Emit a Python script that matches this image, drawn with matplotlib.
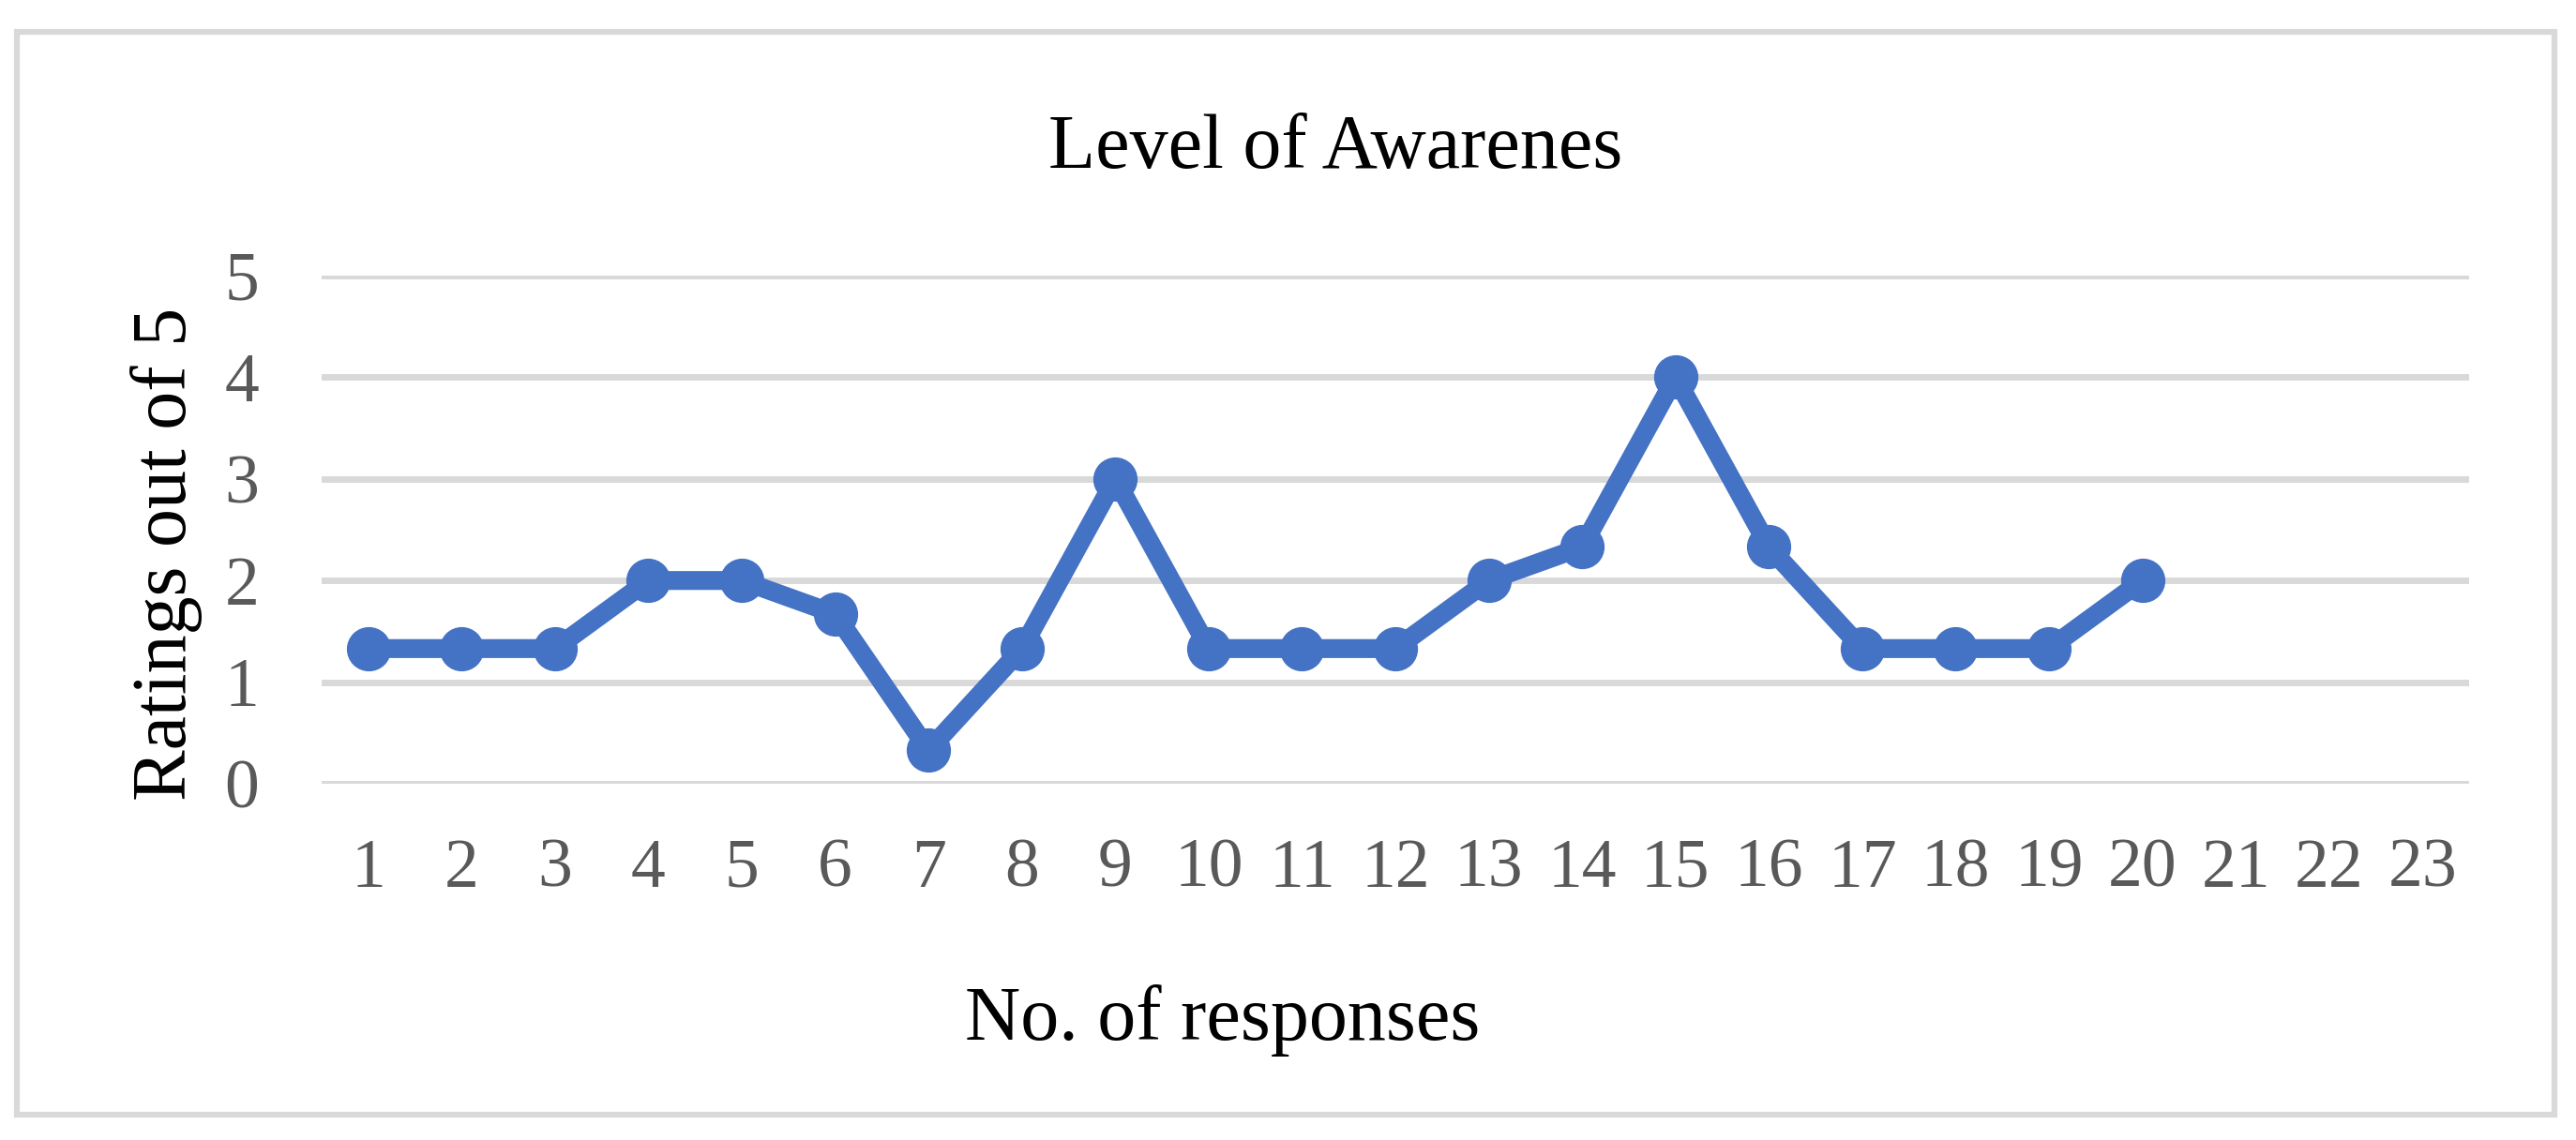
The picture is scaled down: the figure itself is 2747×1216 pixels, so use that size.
import matplotlib.pyplot as plt
from matplotlib.patches import Rectangle

# responses and their ratings (out of 5)
responses = list(range(1, 24))
ratings = [1.33, 1.33, 1.33, 2, 2, 1.67, 0.33, 1.33, 3, 1.33,
           1.33, 1.33, 2, 2.33, 4, 2.33, 1.33, 1.33, 1.33, 2]
y_ticks = [0, 1, 2, 3, 4, 5]

plt.rcParams['font.family'] = ['Liberation Serif', 'DejaVu Serif']

W, H = 2747, 1216
fig = plt.figure(figsize=(W / 100, H / 100), dpi=100)

# outer chart border
fig.patches.append(Rectangle((17.5 / W, 1 - 1189 / H), (2723.5 - 17.5) / W, (1189 - 34) / H,
                             transform=fig.transFigure, fill=False,
                             edgecolor='#D9D9D9', linewidth=4.5))

ax = fig.add_axes([343 / W, 1 - 836 / H, (2633 - 343) / W, (836 - 294) / H])

ax.plot(responses[:len(ratings)], ratings, color='#4472C4', linewidth=14.5,
        marker='o', markersize=33, solid_joinstyle='round', zorder=3)

ax.set_xlim(0.5, 23.5)
ax.set_ylim(0, 5)
ax.set_xticks(responses)
ax.set_yticks(y_ticks)
ax.yaxis.grid(True, color='#D9D9D9', linewidth=5)
ax.set_axisbelow(True)
for sp in ax.spines.values():
    sp.set_visible(False)
ax.tick_params(axis='both', length=0, labelsize=53, labelcolor='#595959')
ax.tick_params(axis='x', pad=42)
ax.tick_params(axis='y', pad=48)

fig.text(1424 / W, 1 - 179 / H, 'Level of Awarenes', fontsize=59,
         ha='center', va='baseline', color='black')
fig.text(1304 / W, 1 - 1109 / H, 'No. of responses', fontsize=59,
         ha='center', va='baseline', color='black')
fig.text(178 / W, 1 - 591 / H, 'Ratings out of 5', fontsize=59, rotation=90,
         ha='center', va='center', color='black')

fig.savefig('out.png', dpi=100)
